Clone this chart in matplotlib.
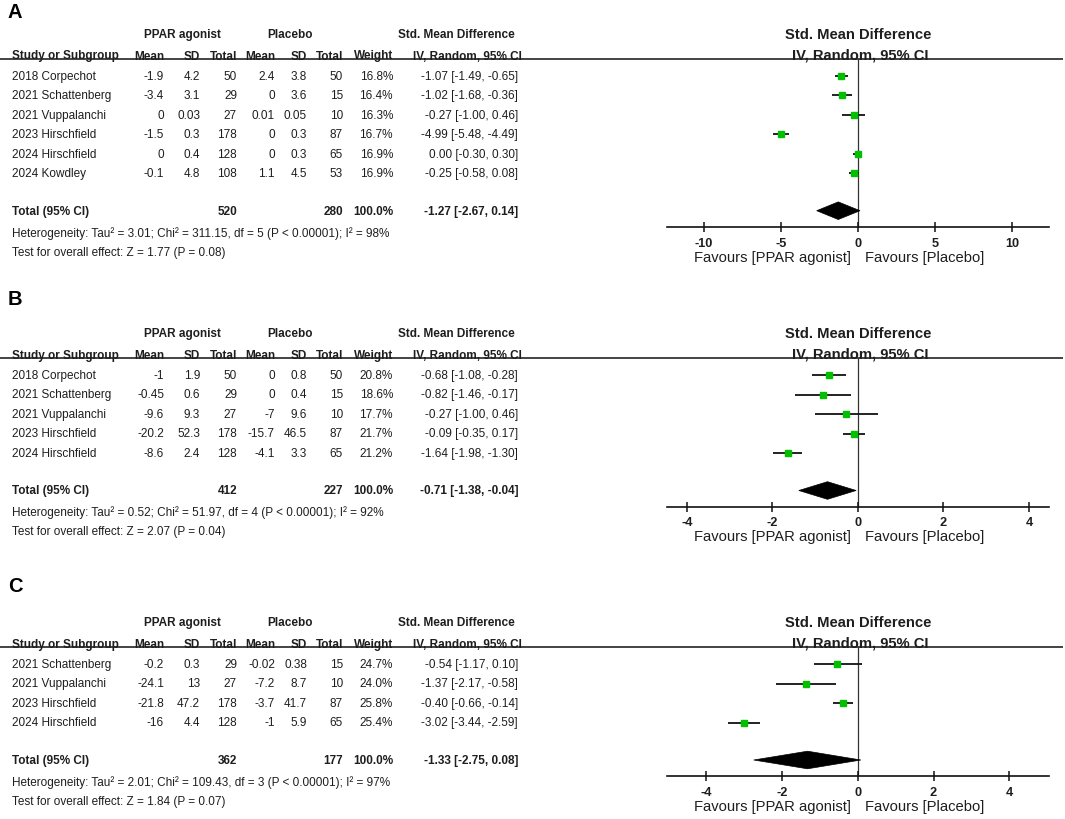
import matplotlib
matplotlib.use('Agg')
import matplotlib.pyplot as plt
from matplotlib.transforms import blended_transform_factory, offset_copy
from matplotlib.patches import Polygon

# ---------------- data ----------------
# Panel A
studies_A = ["2018 Corpechot", "2021 Schattenberg", "2021 Vuppalanchi",
             "2023 Hirschfield", "2024 Hirschfield", "2024 Kowdley"]
ppar_mean_A = [-1.9, -3.4, 0, -1.5, 0, -0.1]
ppar_sd_A = [4.2, 3.1, 0.03, 0.3, 0.4, 4.8]
ppar_n_A = [50, 29, 27, 178, 128, 108]
plac_mean_A = [2.4, 0, 0.01, 0, 0, 1.1]
plac_sd_A = [3.8, 3.6, 0.05, 0.3, 0.3, 4.5]
plac_n_A = [50, 15, 10, 87, 65, 53]
weight_A = [16.8, 16.4, 16.3, 16.7, 16.9, 16.9]
smd_A = [-1.07, -1.02, -0.27, -4.99, 0.00, -0.25]
lo_A = [-1.49, -1.68, -1.00, -5.48, -0.30, -0.58]
hi_A = [-0.65, -0.36, 0.46, -4.49, 0.30, 0.08]
total_A = [520, 280, 100.0, -1.27, -2.67, 0.14]
het_A = "Heterogeneity: Tau² = 3.01; Chi² = 311.15, df = 5 (P < 0.00001); I² = 98%"
test_A = "Test for overall effect: Z = 1.77 (P = 0.08)"
ticks_A = [-10, -5, 0, 5, 10]

# Panel B
studies_B = ["2018 Corpechot", "2021 Schattenberg", "2021 Vuppalanchi",
             "2023 Hirschfield", "2024 Hirschfield"]
ppar_mean_B = [-1, -0.45, -9.6, -20.2, -8.6]
ppar_sd_B = [1.9, 0.6, 9.3, 52.3, 2.4]
ppar_n_B = [50, 29, 27, 178, 128]
plac_mean_B = [0, 0, -7, -15.7, -4.1]
plac_sd_B = [0.8, 0.4, 9.6, 46.5, 3.3]
plac_n_B = [50, 15, 10, 87, 65]
weight_B = [20.8, 18.6, 17.7, 21.7, 21.2]
smd_B = [-0.68, -0.82, -0.27, -0.09, -1.64]
lo_B = [-1.08, -1.46, -1.00, -0.35, -1.98]
hi_B = [-0.28, -0.17, 0.46, 0.17, -1.30]
total_B = [412, 227, 100.0, -0.71, -1.38, -0.04]
het_B = "Heterogeneity: Tau² = 0.52; Chi² = 51.97, df = 4 (P < 0.00001); I² = 92%"
test_B = "Test for overall effect: Z = 2.07 (P = 0.04)"
ticks_B = [-4, -2, 0, 2, 4]

# Panel C
studies_C = ["2021 Schattenberg", "2021 Vuppalanchi", "2023 Hirschfield",
             "2024 Hirschfield"]
ppar_mean_C = [-0.2, -24.1, -21.8, -16]
ppar_sd_C = [0.3, 13, 47.2, 4.4]
ppar_n_C = [29, 27, 178, 128]
plac_mean_C = [-0.02, -7.2, -3.7, -1]
plac_sd_C = [0.38, 8.7, 41.7, 5.9]
plac_n_C = [15, 10, 87, 65]
weight_C = [24.7, 24.0, 25.8, 25.4]
smd_C = [-0.54, -1.37, -0.40, -3.02]
lo_C = [-1.17, -2.17, -0.66, -3.44]
hi_C = [0.10, -0.58, -0.14, -2.59]
total_C = [362, 177, 100.0, -1.33, -2.75, 0.08]
het_C = "Heterogeneity: Tau² = 2.01; Chi² = 109.43, df = 3 (P < 0.00001); I² = 97%"
test_C = "Test for overall effect: Z = 1.84 (P = 0.07)"
ticks_C = [-4, -2, 0, 2, 4]

# ---------------- style ----------------
plt.rcParams['font.family'] = ['Liberation Sans', 'DejaVu Sans']
TC = '#1e1e1e'
GREEN = '#00c000'

W, H = 1065, 820
fig = plt.figure(figsize=(W / 100, H / 100), dpi=100)
bg = fig.add_axes([0, 0, 1, 1])
bg.set_xlim(0, W)
bg.set_ylim(H, 0)
bg.axis('off')
renderer = fig.canvas.get_renderer()


def fit(text, target_px, weight='normal'):
    t = bg.text(0, 0, text, fontsize=10, fontweight=weight)
    w = t.get_window_extent(renderer=renderer).width
    t.remove()
    return 10.0 * target_px / w


FS = fit(het_A, 376)                                   # table text
FSR = fit("Favours [PPAR agonist]", 157)               # forest-plot text
FST = fit("-10", 18.3, 'bold')                         # tick labels

COL_R = [164, 200, 237, 275, 307, 343, 393, 518]
AX_L, AX_R = 666.7, 1049
ZERO_X = 858


def g(v):
    return '%g' % v


def draw_panel(label, label_y, line_y, studies, m1, s1, n1, m2, s2, n2, w,
               smd, lo, hi, tot, het, test, xlim, ticks):
    bg.text(8, label_y, label, fontsize=14.5, fontweight='bold', color='black',
            ha='left', va='center')
    h1 = line_y - 25
    base2 = line_y - 0.5
    kw = dict(fontsize=FS, color=TC)
    kwb = dict(fontsize=FS, color=TC, fontweight='bold')
    kwr = dict(fontsize=FSR, color=TC)
    kwrb = dict(fontsize=FSR, color=TC, fontweight='bold')
    # header row 1
    bg.text(182.5, h1, "PPAR agonist", ha='center', va='center', **kwb)
    bg.text(290.5, h1, "Placebo", ha='center', va='center', **kwb)
    bg.text(456, h1, "Std. Mean Difference", ha='center', va='center', **kwb)
    bg.text(ZERO_X, h1, "Std. Mean Difference", ha='center', va='center', **kwrb)
    # header row 2
    bg.text(12, base2, "Study or Subgroup", ha='left', va='baseline', **kwb)
    heads = ["Mean", "SD", "Total", "Mean", "SD", "Total", "Weight"]
    for x, t in zip(COL_R[:7], heads):
        bg.text(x, base2, t, ha='right', va='baseline', **kwb)
    bg.text(522, base2, "IV, Random, 95% CI", ha='right', va='baseline', **kwb)
    bg.text(ZERO_X + 2, base2, "IV, Random, 95% CI", ha='center', va='baseline',
            **kwrb)
    bg.plot([0, 1063], [line_y, line_y], color='#111111', lw=1.1,
            solid_capstyle='butt')

    row0 = line_y + 16.7
    step = 19.5
    rows_y = [row0 + i * step for i in range(len(studies))]
    for i, y in enumerate(rows_y):
        bg.text(12, y, studies[i], ha='left', va='center', **kw)
        vals = [g(m1[i]), g(s1[i]), str(n1[i]), g(m2[i]), g(s2[i]),
                str(n2[i]), '%.1f%%' % w[i],
                '%.2f [%.2f, %.2f]' % (smd[i], lo[i], hi[i])]
        for x, t in zip(COL_R, vals):
            bg.text(x, y, t.replace('-0.00', '0.00'), ha='right', va='center',
                    **kw)
    ty = row0 + (len(studies) + 1) * step - 1.5
    bg.text(12, ty, "Total (95% CI)", ha='left', va='center', **kwb)
    bg.text(COL_R[2], ty, str(tot[0]), ha='right', va='center', **kwb)
    bg.text(COL_R[5], ty, str(tot[1]), ha='right', va='center', **kwb)
    bg.text(COL_R[6], ty, '%.1f%%' % tot[2], ha='right', va='center', **kwb)
    bg.text(COL_R[7], ty, '%.2f [%.2f, %.2f]' % (tot[3], tot[4], tot[5]),
            ha='right', va='center', **kwb)
    bg.text(12, ty + 21.5, het, ha='left', va='center', **kw)
    bg.text(12, ty + 41, test, ha='left', va='center', **kw)

    axis_y = ty + 16
    ax = fig.add_axes([AX_L / W, 1 - axis_y / H, (AX_R - AX_L) / W,
                       (axis_y - line_y) / H])
    ax.set_xlim(-xlim, xlim)
    ax.set_ylim(axis_y, line_y)
    ax.patch.set_alpha(0)
    for s in ['top', 'left', 'right']:
        ax.spines[s].set_visible(False)
    ax.spines['bottom'].set_linewidth(1.2)
    ax.spines['bottom'].set_color('#111111')
    ax.set_yticks([])
    ax.set_xticks(ticks)
    ax.set_xticklabels([g(t) for t in ticks])
    ax.tick_params(axis='x', direction='inout', length=7.2, width=1.1,
                   color='#111111', pad=3.6, labelsize=FST, labelcolor=TC)
    for lab in ax.get_xticklabels():
        lab.set_fontweight('bold')
    ax.axvline(0, color='#333333', lw=0.9, zorder=1)
    for i, y in enumerate(rows_y):
        ax.plot([lo[i], hi[i]], [y, y], color='#111111', lw=1.3, zorder=2,
                solid_capstyle='butt')
        ax.plot([smd[i]], [y], marker='s', ms=4.8, color=GREEN, mec=GREEN,
                zorder=3)
    dia = Polygon([(tot[4], ty), (tot[3], ty - 8.8), (tot[5], ty),
                   (tot[3], ty + 8.8)], closed=True, facecolor='black',
                  edgecolor='black', lw=0.5, zorder=3)
    ax.add_patch(dia)
    # favours labels
    tr = blended_transform_factory(ax.transData, bg.transData)
    fy = axis_y + 30
    ax.text(0, fy, "Favours [PPAR agonist]", ha='right', va='center',
            transform=offset_copy(tr, fig=fig, x=-7, y=0, units='dots'),
            clip_on=False, **kwr)
    ax.text(0, fy, "Favours [Placebo]", ha='left', va='center',
            transform=offset_copy(tr, fig=fig, x=7, y=0, units='dots'),
            clip_on=False, **kwr)


draw_panel("A", 13, 60, studies_A, ppar_mean_A, ppar_sd_A, ppar_n_A,
           plac_mean_A, plac_sd_A, plac_n_A, weight_A, smd_A, lo_A, hi_A,
           total_A, het_A, test_A, 12.4, ticks_A)
draw_panel("B", 300, 359.3, studies_B, ppar_mean_B, ppar_sd_B, ppar_n_B,
           plac_mean_B, plac_sd_B, plac_n_B, weight_B, smd_B, lo_B, hi_B,
           total_B, het_B, test_B, 4.47, ticks_B)
draw_panel("C", 587, 648.3, studies_C, ppar_mean_C, ppar_sd_C, ppar_n_C,
           plac_mean_C, plac_sd_C, plac_n_C, weight_C, smd_C, lo_C, hi_C,
           total_C, het_C, test_C, 5.05, ticks_C)

fig.savefig('out.png', dpi=100, facecolor='white')
